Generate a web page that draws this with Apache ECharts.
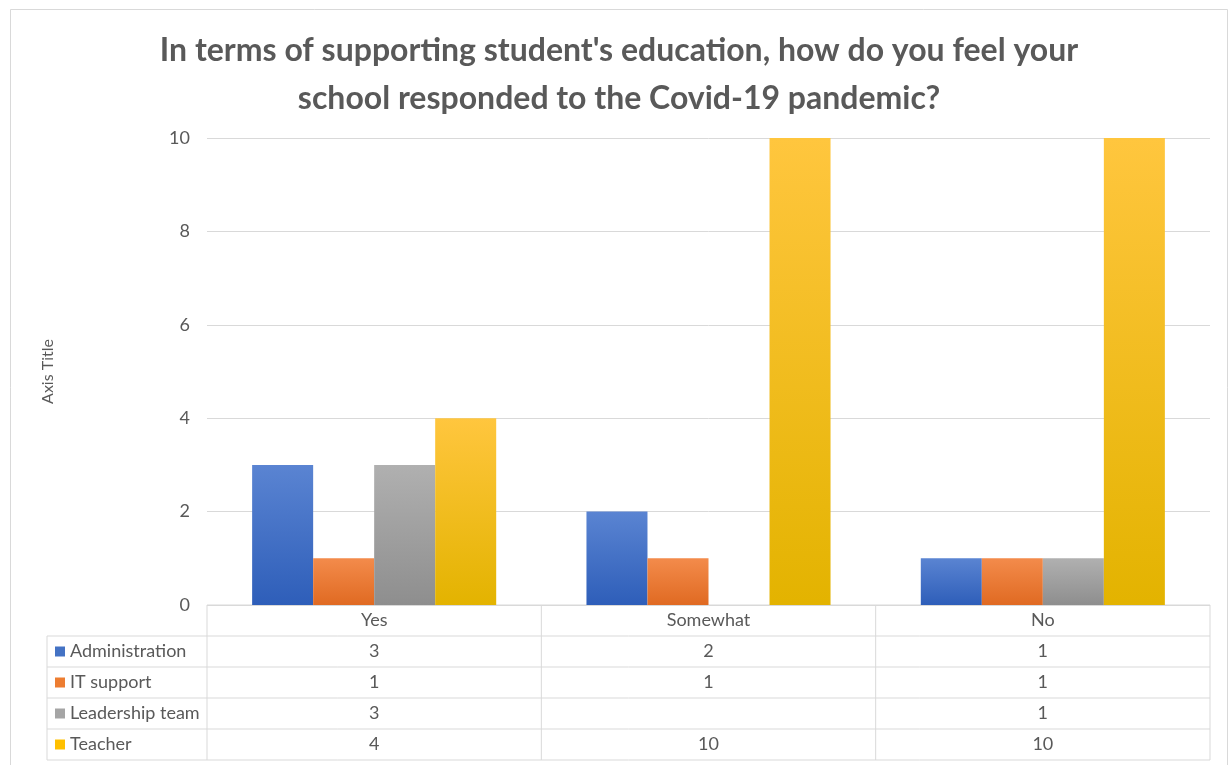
<!DOCTYPE html>
<html>
<head>
<meta charset="utf-8">
<style>
  html, body { margin: 0; padding: 0; background: #ffffff; }
  #chart { width: 1229px; height: 765px; }
</style>
<script src="https://cdn.jsdelivr.net/npm/echarts@6/dist/echarts.min.js"></script>
</head>
<body>
<div id="chart"></div>
<script>
// Survey answers grouped by response, one series per staff group
const categories = ['Yes', 'Somewhat', 'No'];
const seriesNames = ['Administration', 'IT support', 'Leadership team', 'Teacher'];
const administration = [3, 2, 1];
const itSupport = [1, 1, 1];
const leadershipTeam = [3, null, 1];
const teacher = [4, 10, 10];
const yTicks = [0, 2, 4, 6, 8, 10];

const seriesValues = [administration, itSupport, leadershipTeam, teacher];
// [top, bottom] of each bar's vertical gradient
const palette = [
  ['#5a84d2', '#2e5eb9'],
  ['#f38b4b', '#e06a22'],
  ['#b0b0b0', '#8e8e8e'],
  ['#ffc63e', '#e3b300']
];
const swatch = ['#4472c4', '#ed7d31', '#a5a5a5', '#ffc000'];

const textColor = '#595959';
const lineColor = '#d9d9d9';
const font = 'Lato, "Open Sans", sans-serif';
const labelSize = 18;

const chart = echarts.init(document.getElementById('chart'), null, { renderer: 'canvas' });

const option = {
  backgroundColor: '#ffffff',
  animation: false,
  title: {
    text: "In terms of supporting student's education, how do you feel your\nschool responded to the Covid-19 pandemic?",
    left: 614,
    top: 22,
    textAlign: 'center',
    textStyle: {
      fontFamily: font,
      fontWeight: 'bold',
      fontSize: 32,
      lineHeight: 48,
      color: textColor
    }
  },
  grid: { left: 207, right: 19, top: 138, bottom: 160, containLabel: false },
  xAxis: {
    type: 'category',
    data: categories,
    axisLine: { show: false },
    axisTick: { show: false },
    axisLabel: { show: false }
  },
  yAxis: {
    type: 'value',
    min: yTicks[0],
    max: yTicks[yTicks.length - 1],
    interval: yTicks[1] - yTicks[0],
    name: 'Axis Title',
    nameLocation: 'middle',
    nameRotate: 90,
    nameGap: 151,
    nameTextStyle: { fontFamily: font, fontSize: 16, color: textColor },
    axisLine: { show: false },
    axisTick: { show: false },
    axisLabel: { fontFamily: font, fontSize: labelSize, color: textColor, margin: 17 },
    splitLine: { lineStyle: { color: lineColor, width: 1 } }
  },
  series: seriesNames.map((name, i) => ({
    name: name,
    type: 'bar',
    data: seriesValues[i],
    barGap: '0%',
    barCategoryGap: '27%',
    itemStyle: {
      color: new echarts.graphic.LinearGradient(0, 0, 0, 1, [
        { offset: 0, color: palette[i][0] },
        { offset: 1, color: palette[i][1] }
      ]),
      shadowBlur: 4,
      shadowColor: 'rgba(0,0,0,0.28)',
      shadowOffsetX: 1,
      shadowOffsetY: 0
    }
  }))
};

chart.setOption(option);

// Data table under the plot, placed from the axis scales
function buildTable() {
  const centers = categories.map(c => chart.convertToPixel({ xAxisIndex: 0 }, c));
  const band = centers.length > 1 ? centers[1] - centers[0] : 300;
  const xStart = centers[0] - band / 2;
  const xEnd = centers[centers.length - 1] + band / 2;
  const y0 = chart.convertToPixel({ yAxisIndex: 0 }, 0);
  const rowH = 31;
  const labelLeft = 47;
  const rows = seriesNames.length;
  const els = [];
  const line = (x1, y1, x2, y2) => ({
    type: 'line',
    shape: { x1: x1, y1: y1, x2: x2, y2: y2 },
    style: { stroke: lineColor, lineWidth: 1 },
    silent: true
  });
  const text = (x, y, s, align) => ({
    type: 'text',
    x: x, y: y,
    style: {
      text: s, fill: textColor, font: labelSize + 'px ' + font,
      textAlign: align, textVerticalAlign: 'middle'
    },
    silent: true
  });

  // chart frame
  els.push({
    type: 'rect',
    shape: { x: 10.5, y: 9.5, width: 1217, height: 800 },
    style: { fill: 'none', stroke: lineColor, lineWidth: 1 },
    silent: true
  });

  // header row (categories)
  els.push(line(xStart, y0, xEnd, y0));
  categories.forEach((c, j) => els.push(text(centers[j], y0 + rowH / 2, c, 'center')));

  // body rows
  for (let r = 0; r <= rows; r++) {
    const y = y0 + rowH * (r + 1);
    els.push(line(labelLeft, y, xEnd, y));
  }
  const yBottom = y0 + rowH * (rows + 1);
  els.push(line(labelLeft, y0 + rowH, labelLeft, yBottom));
  for (let j = 0; j <= categories.length; j++) {
    const x = xStart + band * j;
    els.push(line(x, y0, x, yBottom));
  }
  seriesNames.forEach((name, r) => {
    const cy = y0 + rowH * (r + 1) + rowH / 2;
    els.push({
      type: 'rect',
      shape: { x: 55, y: cy - 5, width: 10, height: 10 },
      style: { fill: swatch[r] },
      silent: true
    });
    els.push(text(70, cy, name, 'left'));
    seriesValues[r].forEach((v, j) => {
      if (v !== null && v !== undefined) els.push(text(centers[j], cy, String(v), 'center'));
    });
  });

  chart.setOption({ graphic: { elements: els } });
}

buildTable();
</script>
</body>
</html>
